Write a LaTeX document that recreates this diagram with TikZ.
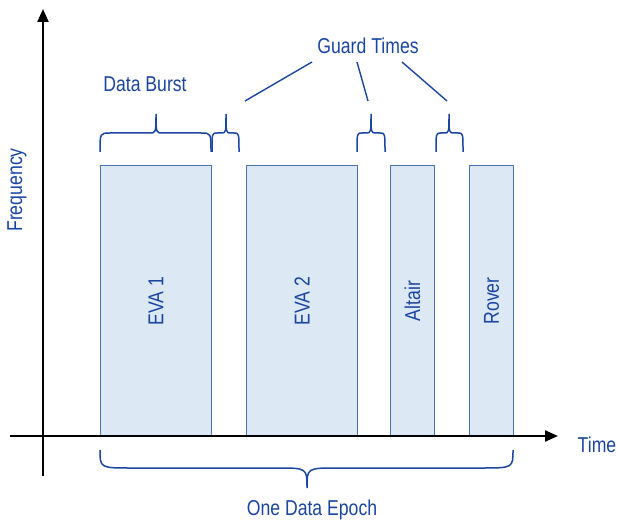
\documentclass[tikz,border=0pt]{standalone}
\usepackage{fontspec}
\setmainfont{Liberation Sans}[FakeStretch=0.82]
\usetikzlibrary{arrows.meta}
\definecolor{txtblue}{HTML}{1A45A0}
\definecolor{boxfill}{HTML}{DCE9F5}
\definecolor{boxline}{HTML}{4A72B5}
% x1 x2 xtip yend ymid ytip rEnd rTip
\newcommand\mybrace[8]{%
  \draw[brc] (#1,#4) .. controls (#1,#5) and (#1,#5) .. ({#1+#7},#5) -- ({#3-#8},#5)
    .. controls (#3,#5) .. (#3,#6) .. controls (#3,#5) .. ({#3+#8},#5) -- ({#2-#7},#5)
    .. controls (#2,#5) and (#2,#5) .. (#2,#4);}
\begin{document}
\begin{tikzpicture}[x=1pt,y=-1pt,
  lbl/.style={text=txtblue,font=\fontsize{21.5}{24}\selectfont,inner sep=0pt},
  burst/.style={draw=boxline,fill=boxfill,line width=1pt,anchor=north west,inner sep=0pt},
  axis/.style={line width=2.2pt,-{Triangle[length=13pt,width=11pt]}},
  brc/.style={draw=txtblue,line width=1.5pt},
  ptr/.style={draw=txtblue,line width=1.4pt}]
\useasboundingbox (0,0) rectangle (618,521);
% bursts
\node[burst,minimum width=111pt,minimum height=271pt] (eva1) at (100,165) {};
\node[burst,minimum width=111pt,minimum height=271pt] (eva2) at (246,165) {};
\node[burst,minimum width=44pt,minimum height=271pt] (altair) at (390,165) {};
\node[burst,minimum width=44pt,minimum height=271pt] (rover) at (469,165) {};
\node[lbl,rotate=90] (t1) at (eva1.center) {EVA 1};
\node[lbl,rotate=90] (t2) at (eva2.center) {EVA 2};
\node[lbl,rotate=90] (t3) at (altair.center) {Altair};
\node[lbl,rotate=90] (t4) at (rover.center) {Rover};
% axes
\coordinate (xs) at (10,436);
\coordinate (xe) at (558,436);
\coordinate (ys) at (43,476);
\coordinate (ye) at (43,9);
\draw[axis] (xs) -- (xe);
\draw[axis] (ys) -- (ye);
\node[lbl] (time) at (597,445) {Time};
\node[lbl,rotate=90] (freq) at (17,190) {Frequency};
% braces
\mybrace{100}{211}{156}{152}{133}{114}{10}{7}
\mybrace{212}{239}{226}{152}{133}{114}{5}{5}
\mybrace{357}{385}{371}{152}{133}{114}{5}{5}
\mybrace{436}{463}{449}{152}{133}{114}{5}{5}
\mybrace{100}{513}{307}{450}{468}{488}{32}{30}
\node[lbl] (burstlbl) at (145,84) {Data Burst};
\node[lbl] (guard) at (368,46) {Guard Times};
\node[lbl] (epoch) at (312,510) {One Data Epoch};
% pointers
\coordinate (p1s) at (312,62); \coordinate (p1e) at (245,101);
\coordinate (p2s) at (357,62); \coordinate (p2e) at (368,101);
\coordinate (p3s) at (402,62); \coordinate (p3e) at (447,101);
\draw[ptr] (p1s) -- (p1e);
\draw[ptr] (p2s) -- (p2e);
\draw[ptr] (p3s) -- (p3e);
\end{tikzpicture}
\end{document}
